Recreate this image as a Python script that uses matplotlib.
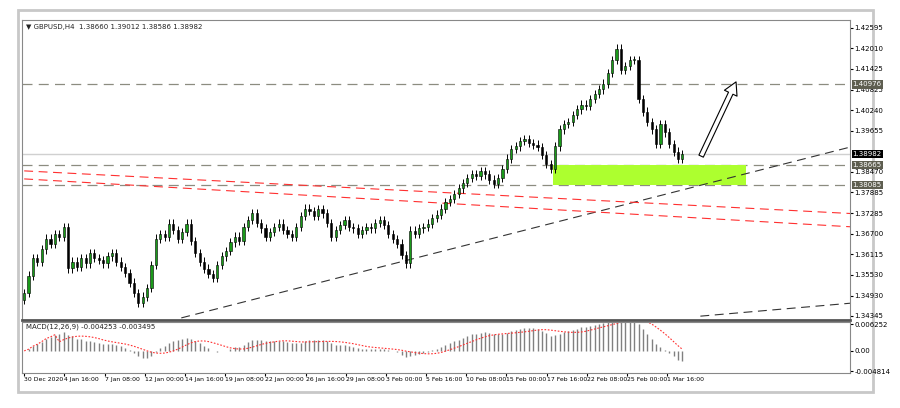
import matplotlib
matplotlib.use("Agg")
import matplotlib.pyplot as plt
import numpy as np
from matplotlib.patches import Rectangle

# H4 closes
closes = [
    1.3500, 1.3550, 1.3600, 1.3590, 1.3625, 1.3656, 1.3640, 1.3670, 1.3660, 1.3690,
    1.3571, 1.3590, 1.3575, 1.3600, 1.3585, 1.3614, 1.3600, 1.3595, 1.3585, 1.3605,
    1.3614, 1.3590, 1.3575, 1.3557, 1.3530, 1.3500, 1.3471, 1.3490, 1.3514, 1.3580,
    1.3656, 1.3670, 1.3660, 1.3699, 1.3680, 1.3656, 1.3675, 1.3699, 1.3650, 1.3614,
    1.3590, 1.3570, 1.3555, 1.3543, 1.3580, 1.3605, 1.3620, 1.3645, 1.3662, 1.3650,
    1.3690, 1.3710, 1.3728, 1.3700, 1.3685, 1.3662, 1.3675, 1.3690, 1.3699, 1.3680,
    1.3670, 1.3662, 1.3690, 1.3720, 1.3742, 1.3735, 1.3720, 1.3740, 1.3728, 1.3700,
    1.3662, 1.3680, 1.3695, 1.3708, 1.3690, 1.3685, 1.3670, 1.3680, 1.3690, 1.3685,
    1.3700, 1.3708, 1.3695, 1.3670, 1.3655, 1.3642, 1.3610, 1.3585, 1.3679, 1.3670,
    1.3685, 1.3690, 1.3699, 1.3715, 1.3725, 1.3742, 1.3760, 1.3770, 1.3784, 1.3800,
    1.3815, 1.3830, 1.3841, 1.3835, 1.3850, 1.3840, 1.3825, 1.3813, 1.3830, 1.3856,
    1.3885, 1.3913, 1.3920, 1.3935, 1.3941, 1.3930, 1.3925, 1.3918, 1.3895, 1.3870,
    1.3856, 1.3920, 1.3969, 1.3985, 1.3990, 1.4010, 1.4026, 1.4040, 1.4035, 1.4055,
    1.4070, 1.4083, 1.4100, 1.4130, 1.4168, 1.4200, 1.4140, 1.4150, 1.4168, 1.4168,
    1.4055, 1.4020, 1.3990, 1.3969, 1.3927, 1.3984, 1.3960, 1.3927, 1.3905, 1.3884, 1.3898,
]
first_open = 1.3480
wick = 0.0012

price_ticks = [1.42595, 1.42010, 1.41425, 1.40825, 1.40240, 1.39655, 1.38470,
               1.37885, 1.37285, 1.36700, 1.36115, 1.35530, 1.34930, 1.34345]
levels = [1.40976, 1.38665, 1.38085]
last_price = 1.38982
zone = (1.38085, 1.38665)
time_labels = ["30 Dec 2020", "4 Jan 16:00", "7 Jan 08:00", "12 Jan 00:00", "14 Jan 16:00",
               "19 Jan 08:00", "22 Jan 00:00", "26 Jan 16:00", "29 Jan 08:00", "3 Feb 00:00",
               "5 Feb 16:00", "10 Feb 08:00", "15 Feb 00:00", "17 Feb 16:00", "22 Feb 08:00",
               "25 Feb 00:00", "1 Mar 16:00"]
# trend lines: (x0, p0, x1, p1) in bar index / price
trend_black = (35.8, 1.3429, 188.2, 1.3918)
trend_black2 = (154.1, 1.3434, 188.2, 1.3471)
red_lines = [(0, 1.3850, 188.2, 1.3728), (0, 1.3827, 188.2, 1.3690)]
arrow = (154, 1.3885, 162.5, 1.4112)

closes = np.array(closes)
opens = np.concatenate([[first_open], closes[:-1]])
highs = np.maximum(opens, closes) + wick
lows = np.minimum(opens, closes) - wick
idx = np.arange(len(closes))

fig = plt.figure(figsize=(9, 4.08), dpi=100)
fig.patches.append(Rectangle((18 / 900, 1 - 392 / 408), 855 / 900, 382 / 408,
                             transform=fig.transFigure, fc="white", ec="#c8c8c8", lw=2, zorder=-5))
ax = fig.add_axes([22 / 900, 1 - 320 / 408, 828 / 900, 300 / 408])
mx = fig.add_axes([22 / 900, 1 - 373 / 408, 828 / 900, 51 / 408], sharex=ax)

xmax = 188.2
ax.set_xlim(-0.5, xmax)
ax.set_ylim(1.3423, 1.4282)

for i in idx:
    up = closes[i] >= opens[i]
    ax.vlines(i, lows[i], highs[i], color="black", lw=0.7, zorder=3)
    body = abs(closes[i] - opens[i]) or 0.0002
    ax.add_patch(Rectangle((i - 0.25, min(opens[i], closes[i])), 0.5, body,
                           fc="#1a9a1a" if up else "black", ec="black", lw=0.4, zorder=4))

for lv in levels:
    ax.axhline(lv, color="#8c8c80", lw=0.9, ls=(0, (8, 5)), zorder=2)
ax.axhline(last_price, color="#d0d0d0", lw=1, zorder=1)
ax.add_patch(Rectangle((120.5, zone[0]), 164.5 - 120.5, zone[1] - zone[0],
                       fc="#adff2f", ec="none", zorder=2))
for x0, p0, x1, p1 in [trend_black, trend_black2]:
    ax.plot([x0, x1], [p0, p1], color="#333333", lw=0.8, ls=(0, (8, 5)), zorder=2)
for x0, p0, x1, p1 in red_lines:
    ax.plot([x0, x1], [p0, p1], color="#ff3030", lw=0.8, ls=(0, (8, 5)), zorder=2)
ax.annotate("", xy=(arrow[2], arrow[3]), xytext=(arrow[0], arrow[1]),
            arrowprops=dict(arrowstyle="simple,head_width=1.0,head_length=0.9,tail_width=0.35",
                            fc="white", ec="black", lw=0.8), zorder=6)

ax.yaxis.tick_right()
ax.set_yticks(price_ticks)
ax.set_yticklabels([f"{p:.5f}" for p in price_ticks], fontsize=5)
ax.tick_params(axis="y", length=2, pad=1)
ax.tick_params(axis="x", bottom=False, labelbottom=False)
for p, fc in [(levels[0], "#5e5e50"), (last_price, "black"), (levels[1], "#5e5e50"), (levels[2], "#5e5e50")]:
    ax.text(xmax + 0.6, p, f"{p:.5f}", fontsize=5, color="white", va="center", ha="left",
            bbox=dict(fc=fc, ec="none", pad=0.8), clip_on=False, zorder=10)
ax.text(0.005, 0.985, "\u25bc GBPUSD,H4  1.38660 1.39012 1.38586 1.38982",
        transform=ax.transAxes, fontsize=5, va="top", color="#222222")
for s in ["top", "left", "right"]:
    ax.spines[s].set_color("#888888")
ax.spines["bottom"].set_color("#555555")
ax.spines["bottom"].set_linewidth(2)

# MACD(12,26,9)
def ema(v, n):
    out = np.empty_like(v)
    a = 2 / (n + 1)
    out[0] = v[0]
    for k in range(1, len(v)):
        out[k] = a * v[k] + (1 - a) * out[k - 1]
    return out

macd = ema(closes, 12) - ema(closes, 26)
signal = np.convolve(macd, np.ones(9) / 9, mode="full")[:len(macd)]
signal[:8] = macd[:8]
mx.vlines(idx, 0, macd, color="#808080", lw=1.0)
mx.plot(idx, signal, color="#ff3030", lw=0.8, ls=(0, (1.5, 1.5)))
mx.set_ylim(-0.0052, 0.0068)
mx.yaxis.tick_right()
mx.set_yticks([0.006252, 0.0, -0.004814])
mx.set_yticklabels(["0.006252", "0.00", "-0.004814"], fontsize=5)
mx.tick_params(axis="y", length=2, pad=1)
mx.text(0.005, 0.97, "MACD(12,26,9) -0.004253 -0.003495", transform=mx.transAxes,
        fontsize=5, va="top", color="#222222")
step = 40.3 / 4.4
mx.set_xticks(np.arange(len(time_labels)) * step)
mx.set_xticklabels(time_labels, fontsize=4.4, ha="left")
mx.tick_params(axis="x", length=2, pad=1)
for s in mx.spines.values():
    s.set_color("#888888")

fig.savefig("out.png", dpi=100)
